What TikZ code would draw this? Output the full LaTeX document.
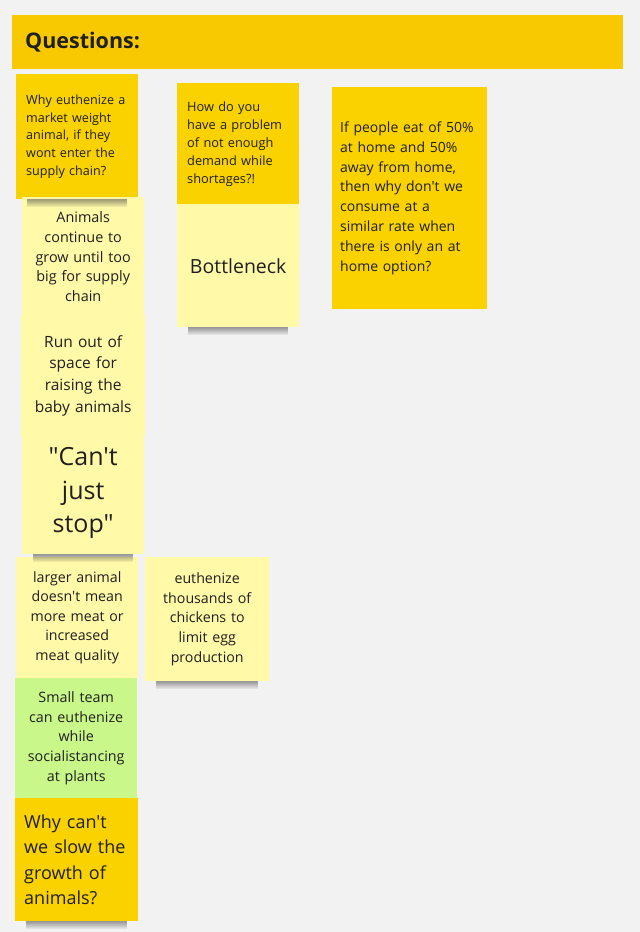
\documentclass[tikz,border=0pt]{standalone}
\usepackage{fontspec}
\setmainfont{Open Sans}[Ligatures=TeXOff]
\usetikzlibrary{calc,fadings}

\definecolor{boardbg}{HTML}{F2F2F2}
\definecolor{headgold}{HTML}{F8C900}
\definecolor{darknote}{HTML}{FAD200}
\definecolor{lightnote}{HTML}{FFF9A8}
\definecolor{greennote}{HTML}{CAF78A}
\definecolor{inkgray}{HTML}{1F1F1F}

\newcommand{\notefont}[2]{\fontsize{#1}{#2}\selectfont}

\begin{document}
\begin{tikzpicture}[x=1pt, y=-1pt,
	note/.style={inner sep=0pt, anchor=north west, text=inkgray},
	dark/.style={note, fill=darknote},
	light/.style={note, fill=lightnote},
	green/.style={note, fill=greennote},
	noteshadow/.style={fill=black!75, opacity=0.5, path fading=south}]
	%board
	\useasboundingbox (0,0) rectangle (640,932);
	\fill[boardbg] (0,0) rectangle (640,932);
	
	%header
	\node[note, fill=headgold, minimum width=611, minimum height=54, text width=585, align=left,
		font=\notefont{21.5}{26}\bfseries] (head) at (12,15) {Questions:};
	
	%first column
	\node[dark, minimum width=122, minimum height=125, text width=102, align=left,
		font=\notefont{12.6}{17.7}] (q1) at (16,74)
		{Why euthenize a\\market weight\\animal, if they\\wont enter the\\supply chain?};
	\node[light, minimum width=122, minimum height=119, text width=112, align=center,
		font=\notefont{14.4}{19.6}] (grow) at (22,197)
		{Animals\\continue to\\grow until too\\big for supply\\chain};
	\node[light, minimum width=124, minimum height=121, text width=114, align=center,
		font=\notefont{15.5}{21.7}] (space) at (21,315)
		{Run out of\\space for\\raising the\\baby animals};
	\node[light, minimum width=122, minimum height=122, text width=112, align=center,
		font=\notefont{25}{33.5}] (stop) at (22,432)
		{"Can't\\just\\stop"};
	\node[light, minimum width=122, minimum height=121, text width=112, align=center,
		font=\notefont{14.2}{19.6}] (bigger) at (16,557)
		{larger animal\\doesn't mean\\more meat or\\increased\\meat quality};
	\node[green, minimum width=122, minimum height=120, text width=112, align=center,
		font=\notefont{14.3}{19.6}] (team) at (15,678)
		{Small team\\can euthenize\\while\\socialistancing\\at plants};
	\node[dark, minimum width=123, minimum height=123, text width=105, align=left,
		font=\notefont{18}{25.3}] (slow) at (15,798)
		{Why can't\\we slow the\\growth of\\animals?};
	
	%second column
	\node[dark, minimum width=122, minimum height=121, text width=102, align=left,
		font=\notefont{12.8}{18}] (q2) at (177,83)
		{How do you\\have a problem\\of not enough\\demand while\\shortages?!};
	\node[light, minimum width=122, minimum height=123, text width=112, align=center,
		font=\notefont{19.5}{24}] (neck) at (177,204) {Bottleneck};
	\node[light, minimum width=124, minimum height=124, text width=114, align=center,
		font=\notefont{14.2}{19.6}] (egg) at (145,557)
		{euthenize\\thousands of\\chickens to\\limit egg\\production};
	
	%third column
	\node[dark, minimum width=155, minimum height=222, text width=139, align=left,
		font=\notefont{14}{19.8}] (q3) at (332,87)
		{If people eat of 50\%\\at home and 50\%\\away from home,\\then why don't we\\consume at a\\similar rate when\\there is only an at\\home option?};
	
	%shadows
	\foreach \n in {q1, neck, stop, egg, slow}{
		\fill[noteshadow] ($(\n.south west)+(11,0)$) rectangle ($(\n.south east)+(-11,8)$);
	}
\end{tikzpicture}
\end{document}
